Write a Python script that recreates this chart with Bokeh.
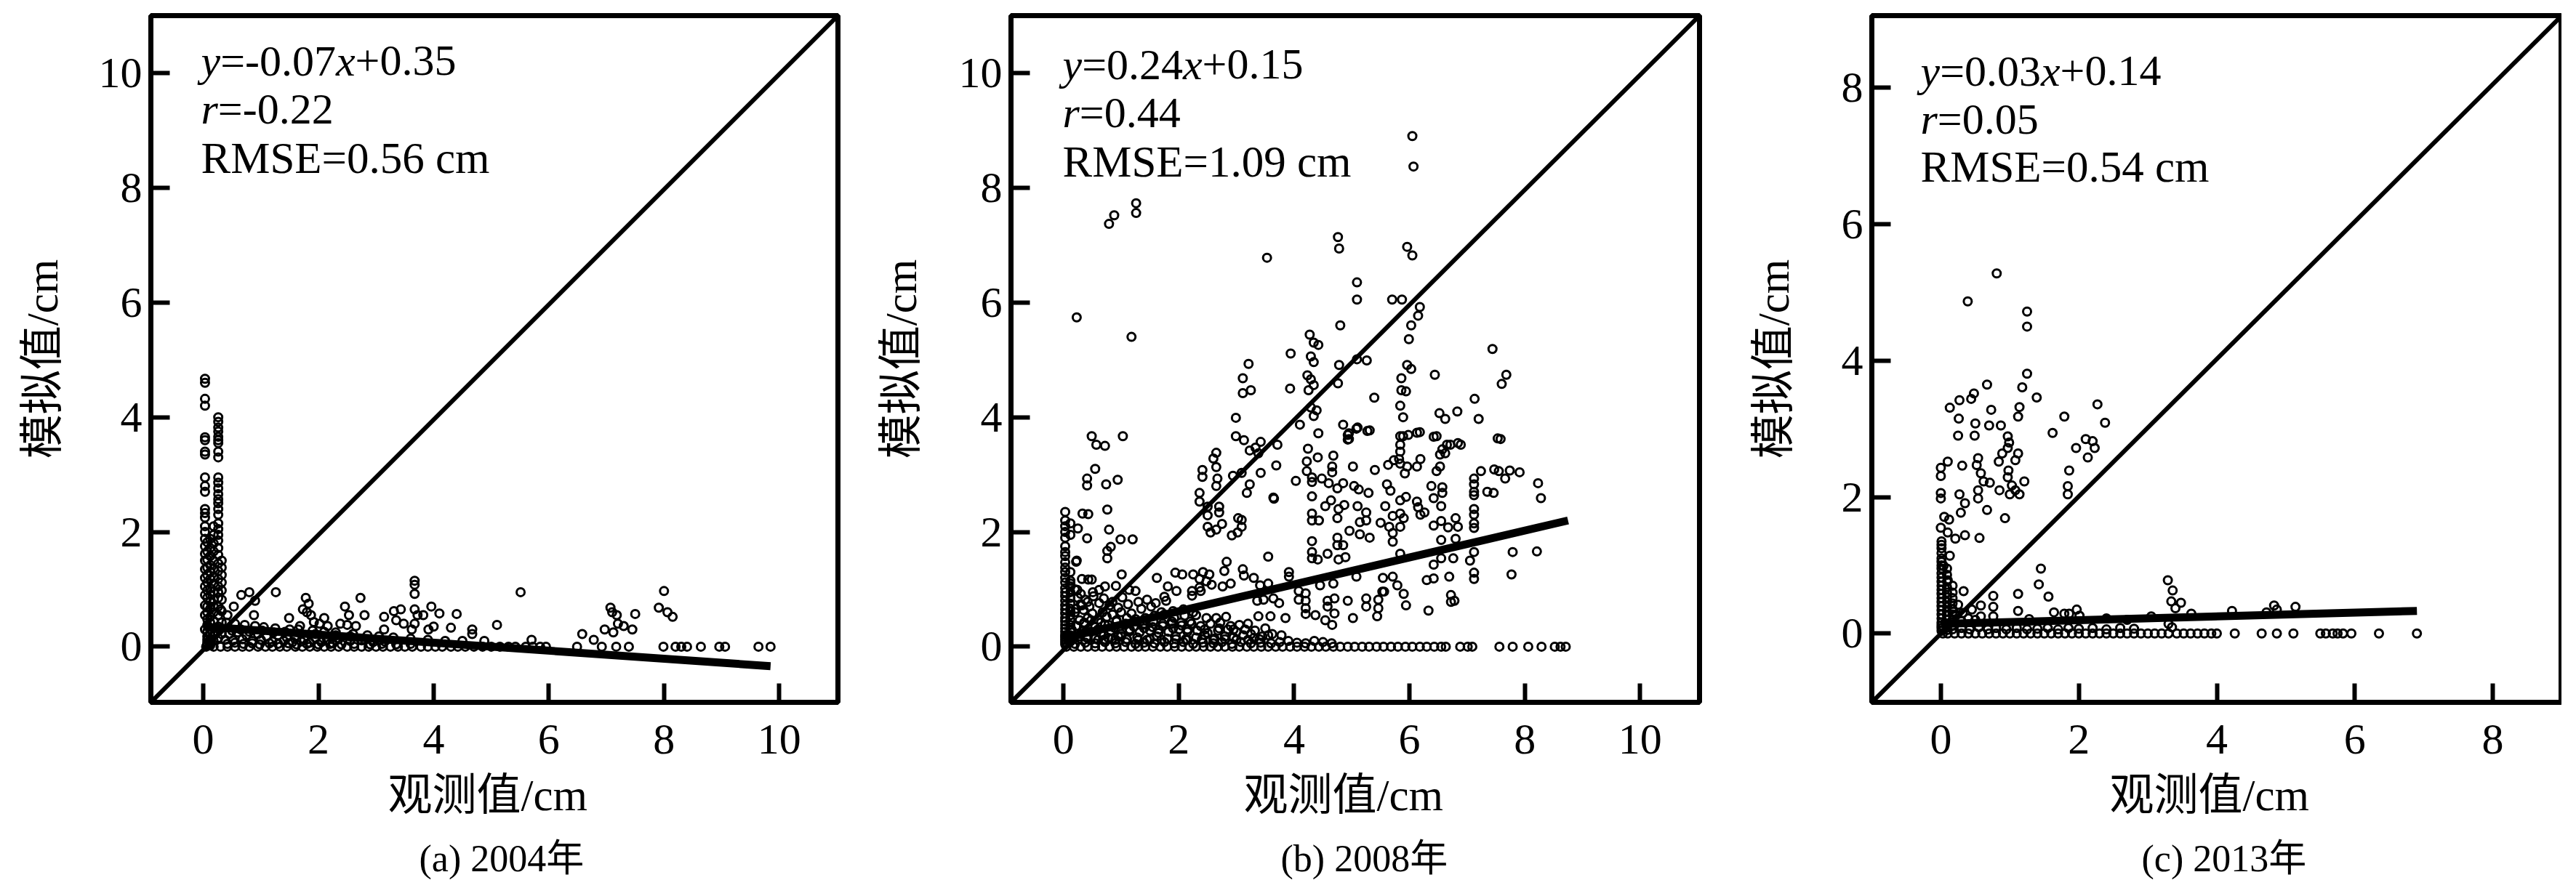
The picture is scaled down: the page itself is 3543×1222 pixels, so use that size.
from bokeh.embed import file_html
from bokeh.layouts import row
from bokeh.models import Label, FixedTicker, Range1d, Title
from bokeh.plotting import figure
from bokeh.resources import INLINE

FONT = '"Liberation Serif","Noto Sans CJK SC"'

x_label = "观测值/cm"
y_label = "模拟值/cm"
captions = ["(a) 2004年", "(b) 2008年", "(c) 2013年"]
ticks_abc = [[0, 2, 4, 6, 8, 10], [0, 2, 4, 6, 8, 10], [0, 2, 4, 6, 8]]

# ---------- panel a : scattered points ----------
a_x = [.66,.8,.9,.88,1.26,.53,.3,.42,1.49,1.78,1.83,1.73,1.8,1.87,2.1,2.16,1.68,2.02,1.92,2.46,2.53,2.73,2.8,2.38,2.5,2.65,
       3.14,3.14,3.31,3.43,3.35,3.48,3.67,3.67,3.67,3.67,3.67,3.72,3.62,3.82,3.96,3.91,4.0,4.1,4.4,4.3,4.67,4.67,5.1,5.51,5.7,4.88,4.5,
       6.58,6.78,6.97,7.07,7.1,7.18,7.12,7.2,7.3,7.45,7.5,8.0,7.91,8.06,8.15,
       .45,.6,.75,.95,1.1,1.3,1.45,1.6,1.75,1.95,2.15,2.35,2.55,2.75,2.95,3.15,.38,.52,.68,.85,1.0,1.2,1.4,1.55,1.7,1.85,2.05,2.25,
       .4,.55,.72,.9,1.05,1.25,1.5,1.65,1.9,2.1,2.3,2.6,2.85,3.05,3.3,3.6,3.9,4.2]
a_y = [.9,.95,.8,.55,.95,.7,.65,.55,.5,.85,.75,.65,.6,.55,.5,.36,.36,.4,.43,.7,.55,.85,.55,.4,.38,.36,
       .52,.3,.62,.65,.46,.4,1.15,1.08,.92,.65,.4,.55,.3,.55,.7,.3,.35,.58,.57,.33,.3,.22,.38,.95,.12,.1,.1,
       .22,.12,.3,.68,.6,.55,.25,.4,.36,.3,.57,.97,.68,.6,.52,
       .22,.25,.2,.22,.18,.2,.16,.18,.13,.15,.12,.13,.1,.11,.08,.09,.12,.11,.13,.1,.12,.09,.1,.08,.09,.07,.08,.06,
       .42,.4,.38,.36,.34,.32,.3,.3,.28,.26,.25,.22,.2,.18,.16,.14,.12,.1]
a_zero_x = [.05,.18,.3,.42,.55,.68,.8,.95,1.08,1.2,1.33,1.45,1.6,1.72,1.85,1.98,2.1,2.22,2.35,2.5,2.62,2.75,2.87,3.0,3.12,3.25,
            3.38,3.5,3.63,3.78,3.9,4.03,4.15,4.3,4.42,4.55,4.7,4.85,5.0,5.15,5.3,5.42,5.6,5.72,5.85,5.95,
            6.49,6.92,7.17,7.39,7.99,8.2,8.3,8.4,8.64,8.96,9.06,9.64,9.85]
a_col1_x = [.03]*27
a_col1_y = [4.67,4.6,4.32,4.2,3.65,3.6,3.4,3.35,2.95,2.8,2.7,2.4,2.33,2.25,2.1,2.0,1.88,1.75,1.62,1.5,1.35,1.2,1.05,.9,.72,.55,.3]
a_col2_x = [.26]*33
a_col2_y = [4.0,3.92,3.82,3.75,3.66,3.6,3.55,3.4,3.3,2.95,2.86,2.76,2.66,2.57,2.5,2.4,2.3,2.15,2.05,1.95,1.85,1.72,1.6,1.45,1.32,1.18,1.05,.95,.85,.7,.55,.35,.15]
a_col3_x = [.12]*18
a_col3_y = [1.88,1.72,1.58,1.42,1.3,1.18,1.02,.9,.78,.66,.52,.42,.3,.22,.14,.08,.05,.02]
a_col4_x = [.18]*16
a_col4_y = [2.1,1.95,1.8,1.66,1.5,1.36,1.22,1.1,.96,.82,.7,.6,.45,.32,.2,.1]
a_col5_x = [.07]*17
a_col5_y = [1.82,1.66,1.52,1.38,1.25,1.12,.98,.85,.7,.6,.48,.38,.26,.18,.12,.07,.03]
a_col6_x = [.32]*9
a_col6_y = [1.5,1.38,1.25,1.12,.98,.82,.62,.42,.22]
a_band_x = [.42,.55,.7,.85,.98,1.15,1.3,1.48,1.62,1.8,2.0,2.2,2.4,2.62,2.9,3.1,3.35,3.6,.5,.65,.8,1.02,1.22,1.42,1.7,1.95,2.3,2.55]
a_band_y = [.05,.07,.05,.06,.04,.06,.05,.06,.04,.05,.04,.05,.04,.05,.04,.05,.04,.05,.28,.3,.26,.28,.25,.26,.22,.22,.2,.18]
a_fit_x = [0, 9.85]
a_fit_y = [.35, -.34]
a_diag_x = [-.91, 11.02]
a_diag_y = [-.97, 11.0]

# ---------- panel b : scattered points ----------
b_x = [6.05,6.07,1.26,1.26,.88,.79,3.53,4.76,4.78,5.96,6.05,5.09,5.09,5.7,5.87,6.18,6.15,.23,1.18,6.03,4.8,5.99,7.44,4.27,4.34,4.42,3.94,4.29,4.34,4.78,5.09,5.26,5.96,6.03,
       3.21,3.11,4.23,4.29,4.34,4.25,4.76,3.11,3.25,3.93,5.86,5.86,5.94,6.44,7.68,7.6,5.39,7.13,5.84,4.29,4.39,4.34,6.52,6.62,6.83,7.2,2.99,5.89,4.1,4.85,4.42,5.1,5.31,4.95,4.95,5.89,6.18,6.47,7.58,6.89,6.71,6.62,
       3.13,3.42,3.33,3.71,3.23,3.38,2.99,.49,.57,.72,1.03,.55,.41,.41,.74,.94,.76,.33,.43,.79,.25,.41,.99,1.2,.82,.76,.76,.23,
       2.41,2.41,2.65,2.6,2.65,2.67,2.65,2.36,2.36,2.5,2.7,2.5,2.7,2.75,2.5,2.65,2.55,2.94,3.09,3.42,3.23,3.18,3.65,3.69,3.09,3.09,2.92,3.02]
b_y = [8.9,8.37,7.73,7.56,7.52,7.37,6.78,7.14,6.94,6.97,6.82,6.35,6.05,6.05,6.05,5.92,5.77,5.74,5.4,5.6,5.6,5.36,5.19,5.44,5.3,5.26,5.11,5.06,4.96,4.91,5.01,4.99,4.91,4.84,
       4.93,4.68,4.73,4.66,4.56,4.47,4.59,4.42,4.47,4.5,4.68,4.47,4.45,4.74,4.74,4.58,4.34,4.32,4.2,4.17,4.12,4.02,4.07,3.97,4.1,3.97,3.99,4.0,3.87,3.87,3.72,3.82,3.77,3.72,3.62,3.67,3.74,3.67,3.62,3.52,3.52,3.37,
       3.6,3.57,3.47,3.52,3.42,3.37,3.67,3.67,3.52,3.5,3.67,3.1,2.93,2.81,2.83,2.91,2.39,2.32,2.31,2.04,2.06,1.89,1.87,1.87,1.74,1.67,1.54,1.5,
       3.08,2.96,3.38,3.28,3.13,2.93,2.8,2.68,2.53,2.44,2.44,2.29,2.34,2.14,2.09,2.04,1.99,2.98,3.03,3.03,2.83,2.68,2.58,3.16,2.21,2.09,1.94,1.99]
b_right_x = [5.08,5.27,4.93,4.93,5.84,5.84,5.84,5.82,5.63,5.73,5.98,6.13,6.42,6.65,6.57,6.84,6.53,7.53,5.02,5.4,5.96,5.92,5.84,6.13,6.19,6.53,6.47,7.24,7.47,7.55,7.66,7.74,7.91,8.23,8.28,7.12,7.12,7.12,7.12,7.35,7.46,
             4.85,5.04,5.12,5.29,5.61,5.67,6.38,6.57,6.57,6.42,6.55,5.94,5.84,6.13,6.15,6.19,6.26,5.58,4.87,5.1,5.25,5.25,5.14,5.5,5.71,5.84,5.9,
             7.12,7.12,7.12,7.12,6.42,6.55,6.67,6.8,6.84,5.65,5.84,5.71,5.71,4.96,5.14,5.31,4.85,4.89,6.55,6.8,5.84,7.12,7.79,8.21,6.55,6.76,6.42,7.05,7.77,7.12,7.12,6.69,6.42,6.3,5.08,5.54,5.71,5.79,5.56,5.53,5.9,5.94,6.33,6.72,6.72,6.78,4.93,5.25,5.25,5.46,5.46,5.44,5.02,
             4.24,4.41,4.22,4.22,4.31,4.03,4.31,4.68,4.66,4.66,4.48,4.6,4.75,3.64,4.31,4.64,4.54,4.77,4.31,4.31,4.43,4.75,4.31,4.31,4.31,4.41,4.58,4.75,4.75,4.77,3.55,3.03]
b_right_y = [3.8,3.76,3.69,3.61,3.67,3.52,3.4,3.27,3.17,3.25,3.69,3.73,3.66,3.52,3.44,3.55,3.35,3.63,3.14,3.08,3.14,3.02,3.19,3.14,3.27,3.14,3.06,3.06,3.09,3.06,2.93,3.07,3.04,2.85,2.59,2.93,2.83,2.7,2.64,2.7,2.68,
             2.85,2.8,2.74,2.68,2.83,2.72,2.8,2.78,2.68,2.59,2.45,2.61,2.55,2.53,2.43,2.3,2.34,2.45,2.47,2.45,2.34,2.2,2.17,2.16,2.28,2.32,2.24,
             2.4,2.3,2.15,2.07,2.11,2.19,2.08,2.24,2.09,2.09,2.09,1.98,1.83,2.02,1.96,1.9,1.77,1.56,1.86,1.88,1.62,1.65,1.65,1.66,1.54,1.54,1.43,1.5,1.26,1.29,1.18,1.22,1.19,1.16,1.22,1.2,1.22,1.07,.96,.96,.92,.72,.63,.9,.78,.8,.8,.84,.7,.82,.67,.53,.5,
             3.45,3.3,3.23,3.06,2.95,2.89,2.87,3.33,3.14,3.04,2.93,2.85,2.76,2.6,2.62,2.55,2.45,2.4,2.32,2.2,2.2,2.24,1.84,1.65,1.54,1.52,1.62,1.9,1.77,1.52,1.57,2.24]
b_low_x = [.22,1.01,1.62,1.94,2.06,2.25,2.42,2.53,2.36,2.48,2.83,2.79,3.11,3.13,3.3,3.91,3.91,3.55,3.41,2.9,2.76,2.57,2.36,2.23,2.38,2.23,1.96,1.81,1.75,1.25,1.14,.91,.72,.62,.49,.43,.32,.24,.51,
           4.08,4.2,4.08,4.2,4.2,4.2,4.37,4.54,4.66,4.58,4.58,4.7,4.7,4.45,4.68,3.36,3.47,3.64,3.74,3.85,3.38,3.59,
           .25,.38,.52,.7,.85,1.02,.3,.45,.62,.8,.95,1.12,1.3,1.45,1.6,1.78,.2,.35,.5,.68,.85,1.0,1.18,1.35,1.52,1.7,1.9,2.08,2.25,.28,.42,.6,.75,.92,1.1,1.25,1.42,1.58,1.75,1.92,2.1,2.3,2.48,2.65,2.82,
           .22,.36,.55,.72,.88,1.05,1.22,1.38,1.55,1.72,1.88,2.05,2.22,2.38,2.55,2.72,2.9,3.05,3.2,.3,.48,.65,.82,1.0,1.15,1.32,1.5,1.65,1.82,2.0,2.15,2.32,2.5,2.68,2.85,3.0,3.15,3.32,3.5,
           .25,.42,.6,.78,.95,1.1,1.28,1.45,1.62,1.8,1.95,2.12,2.3,2.45,2.62,2.8,2.95,3.12,3.3,3.45,3.62,3.78,.2,.38,.55,.72,.9,1.08,1.25,1.4,1.58,1.75,1.92,2.08,2.25,2.42,2.6,2.75,2.92,3.08,3.25,3.42,3.6,3.75,3.9,4.05,4.2,4.35,4.5,4.65]
b_low_y = [1.48,1.26,1.2,1.29,1.26,1.26,1.3,1.26,1.18,1.14,1.48,1.32,1.35,1.24,1.2,1.3,1.22,1.1,1.07,1.1,1.05,1.08,1.03,.97,.97,.89,.97,1.05,.87,.97,.99,1.06,1.05,.99,1.17,1.17,1.18,.99,.95,
           .97,.93,.82,.8,.67,.57,.55,.46,.38,.8,.7,.84,.58,1.07,1.1,.8,.82,.84,.76,.5,.53,.53,
           .85,.82,.88,.84,.78,.86,.74,.7,.76,.72,.68,.74,.78,.82,.76,.8,.6,.64,.58,.6,.56,.6,.58,.66,.7,.6,.62,.65,.6,.46,.5,.47,.52,.46,.5,.48,.5,.54,.56,.5,.54,.55,.5,.5,.52,
           .36,.4,.34,.38,.33,.38,.35,.38,.34,.36,.4,.37,.4,.36,.4,.42,.36,.38,.4,.22,.26,.24,.28,.22,.27,.25,.28,.24,.26,.3,.26,.28,.24,.28,.3,.26,.3,.28,.32,
           .12,.16,.12,.15,.18,.13,.16,.12,.18,.14,.18,.13,.16,.2,.14,.18,.16,.2,.15,.18,.22,.2,.05,.07,.06,.08,.06,.08,.05,.07,.06,.08,.06,.08,.05,.07,.06,.08,.05,.08,.06,.07,.06,.08,.1,.07,.06,.1,.08,.06]
b_dense_x = [.12,.2,.3,.12,.22,.32,.42,.14,.24,.36,.48,.6,.18,.28,.4,.55,.7,.85,1.0,.65,.78,.92,1.08,1.24,1.4,1.56,1.72,1.88,2.04,2.2,.7,.9,1.1,1.3,1.5,1.7,1.95,2.15,2.4,2.6,2.8,3.0,3.2,3.4,1.15,1.4,1.65,1.9,2.15,2.45,2.7,2.95,3.25,3.55]
b_dense_y = [1.1,1.0,.92,.62,.66,.72,.78,.3,.36,.42,.46,.3,.14,.18,.16,.14,.2,.14,.18,.42,.38,.44,.4,.44,.4,.44,.4,.44,.42,.44,.12,.12,.13,.12,.13,.12,.13,.12,.13,.12,.13,.12,.12,.13,.3,.32,.3,.32,.3,.3,.32,.3,.22,.2]
b_zero_x = [.05,.18,.3,.42,.55,.67,.8,.92,1.05,1.18,1.3,1.42,1.55,1.68,1.8,1.93,2.05,2.18,2.3,2.43,2.55,2.68,2.8,2.93,3.05,3.18,3.3,3.43,3.55,3.68,3.8,3.93,4.05,4.18,4.3,4.43,4.55,4.68,4.8,4.93,5.05,5.18,5.3,5.43,5.55,5.68,5.8,5.93,6.05,6.18,6.3,6.43,6.55,6.63,6.88,7.01,7.09,7.56,7.79,8.06,8.29,8.52,8.62,8.71]
b_col1_x = [.03]*30
b_col1_y = [2.35,2.2,2.1,2.0,1.9,1.75,1.65,1.58,1.47,1.38,1.3,1.2,1.12,1.02,.95,.88,.8,.72,.65,.58,.5,.44,.38,.32,.26,.2,.16,.12,.08,.04]
b_col2_x = [.12]*16
b_col2_y = [2.15,1.95,1.3,1.15,1.05,.95,.85,.75,.66,.55,.47,.38,.28,.2,.14,.09]
b_fit_x = [0, 8.75]
b_fit_y = [.15, 2.2]
b_diag_x = [-.91, 11.03]
b_diag_y = [-.97, 11.0]

# ---------- panel c : scattered points ----------
c_x = [.81,.39,1.25,1.25,1.25,.67,1.18,1.39,.48,.44,.27,.13,.73,1.14,1.12,.26,.5,.7,.87,1.79,2.27,2.38,1.62,.25,.49,.97,.99,.97,1.96,2.1,2.2,2.23,2.13,.89,1.12,1.08,.84,.54,.52,.31,.1,0,0,.98,.97,1.86,.58,.62,.71,1.21,1.84,1.84,.85,1.03,1.08,1.0,1.14,.54,.54,.27,0,0,.35,.29,.67,.93,.05,.12,0,.1,.21,.35,.56,
       .13,.04,.1,.33,1.45,1.42,1.56,.76,1.12,.76,.58,1.12,.58,.76,1.64,1.79,1.97,1.86,2.01,1.28,
       3.29,3.36,3.34,3.48,3.4,3.63,3.05,4.22,4.83,4.87,5.14,4.72,2.4,2.7,.45,.25,.32,.22,.4,.3,.5,.18]
c_y = [5.28,4.87,4.72,4.5,3.81,3.65,3.61,3.46,3.52,3.44,3.42,3.31,3.28,3.32,3.18,3.15,3.08,3.05,3.05,3.18,3.36,3.09,2.94,2.9,2.9,2.89,2.8,2.72,2.72,2.85,2.82,2.72,2.58,2.64,2.64,2.54,2.52,2.57,2.47,2.46,2.52,2.43,2.31,2.39,2.29,2.39,2.35,2.23,2.21,2.23,2.16,2.04,2.1,2.17,2.1,2.04,2.04,2.1,1.98,2.04,2.06,1.98,1.91,1.77,1.81,1.69,1.71,1.67,1.55,1.48,1.39,1.44,1.4,
       1.14,.99,.78,.62,.95,.72,.54,.55,.58,.39,.41,.33,.25,.25,.31,.29,.35,.29,.26,.21,
       .78,.63,.47,.45,.37,.29,.25,.33,.41,.35,.39,.31,.22,.2,.35,.42,.3,.28,.22,.18,.2,.32]
c_zero_x = [.03,.1,.2,.3,.4,.5,.6,.7,.8,.9,1.0,1.1,1.2,1.3,1.4,1.5,1.6,1.7,1.8,1.9,2.0,2.1,2.2,2.3,2.4,2.5,2.6,2.7,2.8,2.9,3.0,3.1,3.2,3.3,3.42,3.52,3.62,3.72,3.82,3.92,4.0,4.26,4.65,4.87,5.11,5.5,5.58,5.68,5.75,5.83,5.95,6.35,6.9]
c_col1_x = [.01]*24
c_col1_y = [1.35,1.3,1.25,1.18,1.1,1.05,1.0,.95,.88,.82,.76,.7,.64,.58,.52,.46,.4,.34,.28,.22,.16,.12,.08,.04]
c_col2_x = [.09]*14
c_col2_y = [.95,.86,.76,.68,.6,.53,.46,.39,.32,.26,.2,.14,.09,.05]
c_col3_x = [.17]*9
c_col3_y = [.7,.6,.52,.44,.36,.28,.2,.12,.06]
c_band_x = [.3,.42,.55,.68,.8,.95,1.1,1.25,1.4,1.55,1.7,1.85,2.0,2.2,2.4,2.6,2.8,3.3,3.35]
c_band_y = [.08,.06,.09,.06,.08,.06,.08,.06,.07,.08,.06,.08,.07,.08,.06,.08,.07,.14,.09]
c_fit_x = [0, 6.9]
c_fit_y = [.14, .33]
c_diag_x = [-1.0, 9.0]
c_diag_y = [-1.01, 9.06]

# ---------- statistics text ----------
stats_a = [[("y", True), ("=-0.07", False), ("x", True), ("+0.35", False)], [("r", True), ("=-0.22", False)], [("RMSE=0.56 cm", False)]]
stats_b = [[("y", True), ("=0.24", False), ("x", True), ("+0.15", False)], [("r", True), ("=0.44", False)], [("RMSE=1.09 cm", False)]]
stats_c = [[("y", True), ("=0.03", False), ("x", True), ("+0.14", False)], [("r", True), ("=0.05", False)], [("RMSE=0.54 cm", False)]]

EM = {"y": .444, "x": .444, "r": .389, "=": .564, "-": .333, "+": .564, ".": .25}


def advance(t, fs):
    return sum(EM.get(ch, .5) for ch in t) * fs


def panel(width, left, right, xr, yr, ticks, pts, zero_x, fit, diag, stats, stat_pos, cap, xlab_off, ylab_standoff):
    p = figure(width=width, height=1214, output_backend="svg", toolbar_location=None,
               x_range=Range1d(*xr), y_range=Range1d(*yr),
               min_border_left=left, min_border_right=right, min_border_top=21, min_border_bottom=247)
    p.grid.visible = False
    p.outline_line_color = "black"
    p.outline_line_width = 7
    p.outline_line_alpha = 1
    for ax, stand in ((p.xaxis[0], 31), (p.yaxis[0], 12)):
        ax.ticker = FixedTicker(ticks=ticks)
        ax.axis_line_color = None
        ax.major_tick_in = 26
        ax.major_tick_out = 0
        ax.major_tick_line_width = 6
        ax.major_tick_line_color = "black"
        ax.minor_tick_line_color = None
        ax.major_label_text_font = FONT
        ax.major_label_text_font_size = "60px"
        ax.major_label_text_color = "black"
        ax.major_label_standoff = stand
    p.yaxis[0].axis_label = y_label
    p.yaxis[0].axis_label_text_font = FONT
    p.yaxis[0].axis_label_text_font_size = "61px"
    p.yaxis[0].axis_label_text_font_style = "normal"
    p.yaxis[0].axis_label_text_color = "black"
    p.yaxis[0].axis_label_standoff = ylab_standoff
    p.line(diag[0], diag[1], line_color="black", line_width=6)
    for xs, ys in pts:
        p.scatter(xs, ys, marker="circle", size=11, line_color="black", line_width=3, fill_color=None)
    p.scatter(zero_x, [0] * len(zero_x), marker="circle", size=11, line_color="black", line_width=3, fill_color=None)
    p.line(fit[0], fit[1], line_color="black", line_width=11)
    sx, sys_ = stat_pos
    for i, (line, sy) in enumerate(zip(stats, sys_)):
        cur = sx
        fs = 61 if i == 2 else 60
        for t, ital in line:
            p.add_layout(Label(x=cur, y=sy, x_units="screen", y_units="screen", text=t, text_font=FONT,
                               text_font_size=f"{fs}px", text_font_style="italic" if ital else "normal",
                               text_baseline="middle", text_color="black"))
            cur += advance(t, fs)
    p.add_layout(Title(text=x_label, align="left", offset=xlab_off, text_font=FONT, text_font_size="61px",
                       text_font_style="normal", text_color="black", standoff=38), "below")
    p.add_layout(Title(text=cap[1], align="left", offset=cap[0], text_font=FONT, text_font_size="52px",
                       text_font_style="normal", text_color="black", standoff=9), "below")
    return p


pa = panel(1202, 207, 50, (-.91, 11.02), (-.97, 11.0), ticks_abc[0],
           [(a_x, a_y), (a_col1_x, a_col1_y), (a_col2_x, a_col2_y), (a_col3_x, a_col3_y), (a_col4_x, a_col4_y),
            (a_col5_x, a_col5_y), (a_col6_x, a_col6_y), (a_band_x, a_band_y)],
           a_zero_x, (a_fit_x, a_fit_y), (a_diag_x, a_diag_y), stats_a, (69, (883, 817, 749)),
           (369, captions[0]), 326, 41)
pb = panel(1200, 187, 65, (-.91, 11.03), (-.97, 11.0), ticks_abc[1],
           [(b_x, b_y), (b_right_x, b_right_y), (b_low_x, b_low_y), (b_dense_x, b_dense_y), (b_col1_x, b_col1_y), (b_col2_x, b_col2_y)],
           b_zero_x, (b_fit_x, b_fit_y), (b_diag_x, b_diag_y), stats_b, (71, (878, 812, 744)),
           (371, captions[1]), 320, 43)
pc = panel(1121, 169, 0, (-1.0, 9.0), (-1.01, 9.06), ticks_abc[2],
           [(c_x, c_y), (c_col1_x, c_col1_y), (c_col2_x, c_col2_y), (c_col3_x, c_col3_y), (c_band_x, c_band_y)],
           c_zero_x, (c_fit_x, c_fit_y), (c_diag_x, c_diag_y), stats_c, (67, (869, 803, 737)),
           (371, captions[2]), 327, 57)

layout = row(pa, pb, pc, spacing=0)
open("out.html", "w").write(file_html(layout, INLINE))
